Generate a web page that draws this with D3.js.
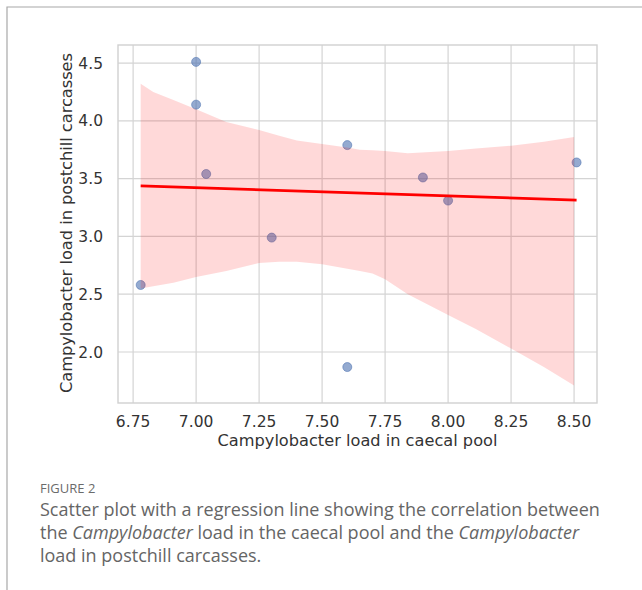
<!DOCTYPE html>
<html>
<head>
<meta charset="utf-8">
<script src="https://cdn.jsdelivr.net/npm/d3@7"></script>
<style>
  body { margin: 0; background: #fff; }
  svg { display: block; }
  .mpl { font-family: 'DejaVu Sans', 'Verdana', sans-serif; fill: #333; }
  .cap { font-family: 'Open Sans', sans-serif; }
</style>
</head>
<body>
<svg width="642" height="590"></svg>
<script>
// caecal pool load (x) and postchill carcass load (y)
const caecal = [6.78, 7.00, 7.00, 7.04, 7.30, 7.60, 7.60, 7.90, 8.00, 8.51];
const carcass = [2.58, 4.51, 4.14, 3.54, 2.99, 3.79, 1.87, 3.51, 3.31, 3.64];

// bootstrap confidence band
const bandX = [6.78, 6.83, 6.91, 7.00, 7.12, 7.25, 7.33, 7.40, 7.50, 7.60, 7.65, 7.70, 7.75, 7.84, 8.00, 8.11, 8.25, 8.38, 8.50];
const bandHigh = [4.32, 4.25, 4.18, 4.10, 3.99, 3.92, 3.87, 3.83, 3.80, 3.77, 3.75, 3.745, 3.74, 3.72, 3.74, 3.76, 3.785, 3.82, 3.86];
const bandLow = [2.55, 2.57, 2.60, 2.65, 2.70, 2.77, 2.78, 2.78, 2.76, 2.72, 2.70, 2.68, 2.63, 2.50, 2.32, 2.20, 2.03, 1.87, 1.71];

const xTicks = [6.75, 7.00, 7.25, 7.50, 7.75, 8.00, 8.25, 8.50];
const yTicks = [2.0, 2.5, 3.0, 3.5, 4.0, 4.5];

var svg = d3.select('svg');

var plot = { left: 118, right: 597, top: 45, bottom: 403 };

var x = d3.scaleLinear().domain([6.69, 8.591]).range([plot.left, plot.right]);
var y = d3.scaleLinear().domain([1.559, 4.656]).range([plot.bottom, plot.top]);

// card border (top + left)
svg.append('path')
  .attr('d', 'M7,590 V7 H642')
  .style('fill', 'none')
  .style('stroke', '#a8a8a8')
  .style('stroke-width', 1.2);

// grid
var grid = svg.append('g').style('stroke', '#d4d4d4').style('stroke-width', 1.2);
grid.selectAll('.vg')
  .data(xTicks)
  .enter()
  .append('line')
  .attr('x1', d => x(d)).attr('x2', d => x(d))
  .attr('y1', plot.top).attr('y2', plot.bottom);
grid.selectAll('.hg')
  .data(yTicks)
  .enter()
  .append('line')
  .attr('y1', d => y(d)).attr('y2', d => y(d))
  .attr('x1', plot.left).attr('x2', plot.right);

// points (drawn under the band, like seaborn regplot)
svg.append('g')
  .selectAll('circle')
  .data(caecal.map((v, i) => [v, carcass[i]]))
  .enter()
  .append('circle')
  .attr('cx', d => x(d[0]))
  .attr('cy', d => y(d[1]))
  .attr('r', 4.5)
  .style('fill', '#4c72b0')
  .style('fill-opacity', 0.6)
  .style('stroke', '#4c72b0')
  .style('stroke-opacity', 0.7)
  .style('stroke-width', 0.8);

// confidence band
var area = d3.area()
  .x((d, i) => x(bandX[i]))
  .y0((d, i) => y(bandLow[i]))
  .y1((d, i) => y(bandHigh[i]));
svg.append('path')
  .datum(bandX)
  .attr('d', area)
  .style('fill', '#ff0000')
  .style('fill-opacity', 0.15);

// least squares fit
var mx = d3.mean(caecal), my = d3.mean(carcass);
var sxy = d3.sum(caecal, (v, i) => (v - mx) * (carcass[i] - my));
var sxx = d3.sum(caecal, v => (v - mx) * (v - mx));
var slope = sxy / sxx, icpt = my - slope * mx;
var ext = d3.extent(caecal);
svg.append('line')
  .attr('x1', x(ext[0])).attr('y1', y(icpt + slope * ext[0]))
  .attr('x2', x(ext[1])).attr('y2', y(icpt + slope * ext[1]))
  .style('stroke', '#ff0000')
  .style('stroke-width', 2.6);

// spines
svg.append('rect')
  .attr('x', plot.left).attr('y', plot.top)
  .attr('width', plot.right - plot.left)
  .attr('height', plot.bottom - plot.top)
  .style('fill', 'none')
  .style('stroke', '#d0d0d0')
  .style('stroke-width', 1.4);

// tick labels
svg.append('g')
  .selectAll('text')
  .data(xTicks)
  .enter()
  .append('text')
  .attr('class', 'mpl')
  .attr('x', d => x(d))
  .attr('y', 427)
  .attr('text-anchor', 'middle')
  .style('font-size', '15.5px')
  .text(d => d.toFixed(2));

svg.append('g')
  .selectAll('text')
  .data(yTicks)
  .enter()
  .append('text')
  .attr('class', 'mpl')
  .attr('x', 103)
  .attr('y', d => y(d) + 5.5)
  .attr('text-anchor', 'end')
  .style('font-size', '15.5px')
  .text(d => d.toFixed(1));

// axis titles
svg.append('text')
  .attr('class', 'mpl')
  .attr('x', (plot.left + plot.right) / 2)
  .attr('y', 446)
  .attr('text-anchor', 'middle')
  .style('font-size', '16.2px')
  .text('Campylobacter load in caecal pool');

svg.append('text')
  .attr('class', 'mpl')
  .attr('transform', 'translate(72,' + (plot.top + plot.bottom - 2) / 2 + ') rotate(-90)')
  .attr('text-anchor', 'middle')
  .style('font-size', '16.2px')
  .text('Campylobacter load in postchill carcasses');

// caption
svg.append('text')
  .attr('class', 'cap')
  .attr('x', 40).attr('y', 493)
  .style('font-size', '13px')
  .style('fill', '#6b6b6b')
  .text('FIGURE 2');

var capLines = [
  [['Scatter plot with a regression line showing the correlation between', false]],
  [['the ', false], ['Campylobacter', true], [' load in the caecal pool and the ', false], ['Campylobacter', true]],
  [['load in postchill carcasses.', false]]
];
capLines.forEach(function(parts, i) {
  var t = svg.append('text')
    .attr('class', 'cap')
    .attr('x', 40).attr('y', 516 + i * 23)
    .style('font-size', '18px')
    .style('fill', '#656565');
  parts.forEach(function(p) {
    t.append('tspan').style('font-style', p[1] ? 'italic' : 'normal').text(p[0]);
  });
});
</script>
</body>
</html>
